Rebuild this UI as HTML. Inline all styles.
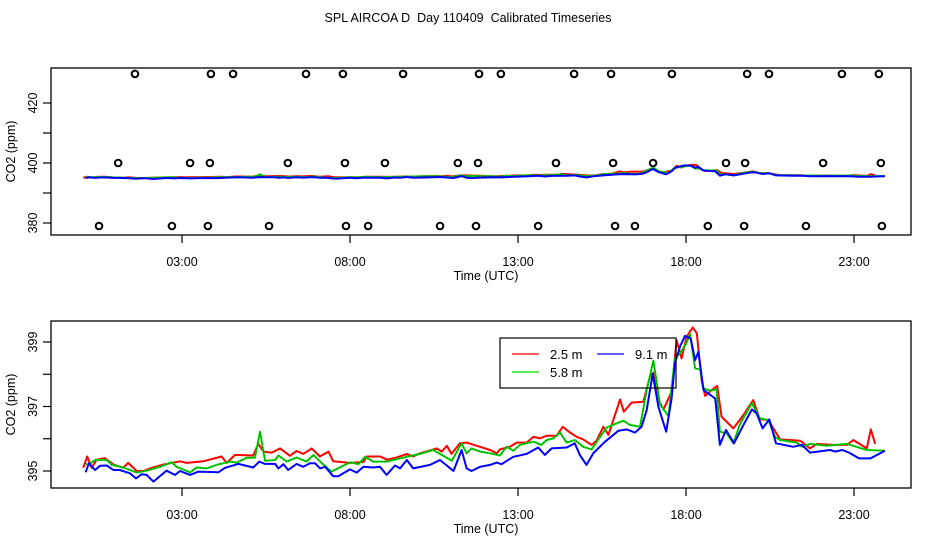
<!DOCTYPE html>
<html><head><meta charset="utf-8"><style>
html,body{margin:0;padding:0;background:#fff}
svg{display:block;font-family:"Liberation Sans",sans-serif}
</style></head><body>
<svg id="c" width="936" height="540" viewBox="0 0 936 540"></svg>
<script>
const redT=[0.06,0.18,0.31,0.46,0.7,0.96,1.25,1.4,1.65,1.85,2.1,2.44,2.7,2.94,3.14,3.63,4.18,4.33,4.58,5.12,5.27,5.42,5.67,5.92,6.21,6.41,6.61,6.86,7.1,7.36,7.5,8.0,8.4,8.5,8.9,9.1,9.39,9.69,9.88,10.08,10.58,10.73,10.88,11.02,11.27,11.47,11.87,12.17,12.37,12.46,12.76,12.96,13.26,13.46,13.65,13.85,14.15,14.33,14.55,14.75,14.94,15.19,15.34,15.54,15.69,16.04,16.15,16.38,16.73,16.93,17.03,17.18,17.33,17.57,17.72,17.87,18.02,18.2,18.32,18.47,18.57,18.76,18.93,19.06,19.41,19.71,20.0,20.2,20.45,20.8,21.4,21.69,21.89,22.39,22.79,22.98,23.38,23.5,23.63];
const redV=[395.1,395.45,395.1,395.35,395.4,395.2,395.1,395.25,395.0,395.0,395.1,395.2,395.25,395.3,395.25,395.3,395.45,395.25,395.5,395.48,395.85,395.6,395.57,395.7,395.47,395.62,395.53,395.7,395.45,395.6,395.3,395.25,395.28,395.45,395.45,395.35,395.42,395.53,395.45,395.55,395.7,395.6,395.78,395.53,395.86,395.88,395.75,395.65,395.55,395.67,395.75,395.88,395.88,396.06,396.01,396.09,396.09,396.37,396.19,396.06,395.98,395.81,395.94,396.37,396.12,397.22,396.84,397.12,397.15,397.93,398.05,397.2,396.91,397.46,399.06,398.49,399.17,399.45,399.27,397.77,397.33,397.51,397.64,396.68,396.32,396.74,397.2,396.6,396.58,395.98,395.94,395.7,395.84,395.81,395.81,395.96,395.7,396.29,395.84];
const greenT=[0.11,0.21,0.41,0.76,0.91,1.25,1.65,1.95,2.35,2.69,2.84,3.24,3.44,3.73,4.03,4.43,4.63,4.92,5.17,5.32,5.47,5.77,5.87,6.12,6.41,6.71,6.91,7.11,7.45,8.0,8.25,8.45,8.69,9.09,9.49,10.08,10.48,11.03,11.32,11.47,11.62,11.87,12.17,12.46,12.66,12.86,13.06,13.46,13.7,13.85,14.05,14.25,14.45,14.69,14.94,15.19,15.39,15.64,15.94,16.14,16.33,16.63,16.83,17.03,17.23,17.48,17.67,17.82,18.0,18.12,18.27,18.42,18.52,18.72,18.91,19.01,19.21,19.41,19.61,19.96,20.2,20.45,20.65,20.8,21.3,21.45,21.69,22.19,22.79,23.38,23.92];
const greenV=[395.24,395.19,395.34,395.34,395.19,395.11,394.95,395.01,395.13,395.27,395.13,394.96,395.11,395.08,395.19,395.29,395.26,395.41,395.41,396.22,395.32,395.34,395.48,395.29,395.42,395.29,395.5,395.29,394.98,395.27,395.21,395.44,395.29,395.29,395.39,395.53,395.65,395.32,395.86,395.55,395.7,395.6,395.55,395.48,395.75,395.63,395.81,395.91,395.81,395.96,396.01,396.19,395.88,395.96,395.75,395.67,395.98,396.35,396.48,396.56,396.43,396.37,397.51,398.42,397.05,396.71,398.49,398.65,398.94,399.25,398.18,398.15,397.56,397.49,397.53,396.22,396.17,395.86,396.46,397.1,396.63,396.58,396.06,395.96,395.88,395.75,395.84,395.78,395.84,395.65,395.63];
const blueT=[0.13,0.23,0.41,0.56,0.76,0.96,1.15,1.45,1.63,1.8,1.95,2.15,2.54,2.79,2.94,3.24,3.49,4.08,4.28,4.68,5.12,5.3,5.47,5.77,5.87,6.02,6.16,6.41,6.61,6.81,6.96,7.11,7.26,7.5,7.65,8.0,8.2,8.4,8.69,8.89,9.09,9.34,9.49,9.69,9.88,10.38,10.68,11.08,11.32,11.47,11.62,11.87,12.17,12.37,12.51,12.86,13.26,13.6,13.8,14.0,14.45,14.69,14.84,15.04,15.24,15.59,15.99,16.24,16.48,16.68,16.83,17.01,17.18,17.41,17.57,17.67,17.82,17.97,18.14,18.27,18.37,18.52,18.87,19.01,19.19,19.43,19.71,19.96,20.1,20.28,20.48,20.68,21.19,21.45,21.69,22.29,22.44,22.65,22.85,23.15,23.49,23.92];
const blueV=[394.96,395.24,395.03,395.16,395.17,395.03,395.03,394.93,394.77,394.9,394.88,394.67,395.01,394.88,395.0,394.88,394.98,394.96,395.1,395.22,395.11,395.29,395.22,395.22,395.08,395.21,395.03,395.22,395.13,395.24,395.24,395.08,395.13,394.84,394.84,395.05,394.95,395.13,395.11,395.13,394.88,395.17,395.08,395.34,395.08,395.19,395.34,395.0,395.65,395.08,395.0,395.13,395.19,395.26,395.21,395.44,395.53,395.73,395.5,395.7,395.73,395.86,395.5,395.19,395.55,395.91,396.25,396.29,396.19,396.37,396.89,398.01,396.99,396.22,397.25,398.34,398.86,399.19,399.11,398.44,398.7,397.51,397.25,395.81,396.27,395.86,396.43,396.91,396.79,396.32,396.6,395.86,395.75,395.81,395.57,395.65,395.6,395.65,395.57,395.39,395.39,395.63];
const outHiT=[1.60,3.86,4.52,6.69,7.79,9.58,11.84,12.49,14.67,15.77,17.58,19.82,20.47,22.64,23.74];
const outMidT=[1.10,3.24,3.83,6.15,7.85,9.04,11.21,11.81,14.13,15.83,17.02,19.19,19.76,22.08,23.80];
const outLoT=[0.53,2.70,3.77,5.59,7.88,8.54,10.68,11.75,13.60,15.89,16.48,18.65,19.73,21.57,23.83];
const outHiV=429.7, outMidV=400, outLoV=379;
const xTicks=[3,8,13,18,23];
const xTickLabels=["03:00","08:00","13:00","18:00","23:00"];
const topYTicks=[380,390,400,410,420];
const topYLabels=["380","","400","","420"];
const botYTicks=[395,396,397,398,399];
const botYLabels=["395","","397","","399"];

const NS="http://www.w3.org/2000/svg";
const svg=document.getElementById('c');
function mk(tag,attrs,parent,name,inter){const e=document.createElementNS(NS,tag);for(const k in attrs)e.setAttribute(k,attrs[k]);


(parent||svg).appendChild(e);return e;}
const X=t=>182+(t-3)*33.6;
const L=51,R=911;
const topY=v=>163-(v-400)*3;
const botY=v=>471-(v-395)*32.25;

function txt(x,y,s,name,extra){const e=mk('text',Object.assign({x:x,y:y,'font-size':12.5,'text-anchor':'middle',fill:'#000'},extra||{}),null,name,false);e.textContent=s;return e;}
const title=txt(468,22,"SPL AIRCOA D  Day 110409  Calibrated Timeseries","chart-title");
title.style.whiteSpace='pre';

function panel(prefix,T,B,yf,yt,yl){
  const g=mk('g',{},null,prefix+'-panel',false);
  const clipId=prefix+'-clip';
  const cp=mk('clipPath',{id:clipId},g,prefix+'-clip',false);
  mk('rect',{x:L,y:T,width:R-L,height:B-T},cp,prefix+'-clip-rect',false);
  const series=[[redT,redV,'#ff0000','red'],[greenT,greenV,'#00dd00','green'],[blueT,blueV,'#0000ff','blue']];
  const lg=mk('g',{'clip-path':'url(#'+clipId+')'},g,prefix+'-series',false);
  series.forEach(s=>{
    const d=s[0].map((t,i)=>(i?'L':'M')+X(t).toFixed(1)+','+yf(s[1][i]).toFixed(1)).join('');
    mk('path',{d:d,fill:'none',stroke:s[2],'stroke-width':2,'stroke-linejoin':'round'},lg,prefix+'-line-'+s[3],false);
    if(s[3]==='green') mk('path',{d:d,fill:'none',stroke:'#000','stroke-width':0.6,'stroke-dasharray':'1 2'},lg,prefix+'-line-green-dots',false);
  });
  mk('rect',{x:L,y:T,width:R-L,height:B-T,fill:'none',stroke:'#000','stroke-width':1.3},g,prefix+'-plot-frame',false);
  xTicks.forEach((t,i)=>{
    mk('line',{x1:X(t),x2:X(t),y1:B,y2:B+8,stroke:'#000','stroke-width':1.2},g,prefix+'-x-tick',false);
    txt(X(t),B+31,xTickLabels[i],prefix+'-x-tick-label');
  });
  yt.forEach((v,i)=>{
    const y=yf(v);
    mk('line',{x1:L-8,x2:L,y1:y,y2:y,stroke:'#000','stroke-width':1.2},g,prefix+'-y-tick',false);
    if(yl[i]){txt(0,0,yl[i],prefix+'-y-tick-label',{transform:'translate(37,'+y+') rotate(-90)'});}
  });
  txt(486,B+45,"Time (UTC)",prefix+'-x-axis-title');
  txt(0,0,"CO2 (ppm)",prefix+'-y-axis-title',{transform:'translate(15,'+((T+B)/2)+') rotate(-90)'});
  return g;
}
const tg=panel('top',68,235,topY,topYTicks,topYLabels);
[[outHiT,outHiV],[outMidT,outMidV],[outLoT,outLoV]].forEach(r=>{
  r[0].forEach(t=>{
    mk('circle',{cx:X(t),cy:topY(r[1]),r:3.3,fill:'none',stroke:'#000','stroke-width':2},tg,'outlier-point',false);
  });
});
panel('bottom',321,488,botY,botYTicks,botYLabels);

// legend
const lg=mk('g',{},null,'legend',false);
mk('rect',{x:500,y:338,width:176,height:50,fill:'none',stroke:'#000','stroke-width':1.2},lg,'legend-box',false);
const ents=[[512,354,'#ff0000','2.5 m','legend-entry-2-5m'],[597,354,'#0000ff','9.1 m','legend-entry-9-1m'],[512,372,'#00dd00','5.8 m','legend-entry-5-8m']];
ents.forEach(e=>{
  const g=mk('g',{},lg,e[4],false);
  mk('line',{x1:e[0],x2:e[0]+27,y1:e[1],y2:e[1],stroke:e[2],'stroke-width':1.3},g,'legend-swatch',false);
  const t=mk('text',{x:e[0]+38,y:e[1]+5,'font-size':13,fill:'#000'},g,'legend-label',false);t.textContent=e[3];
});
</script>
</body></html>
